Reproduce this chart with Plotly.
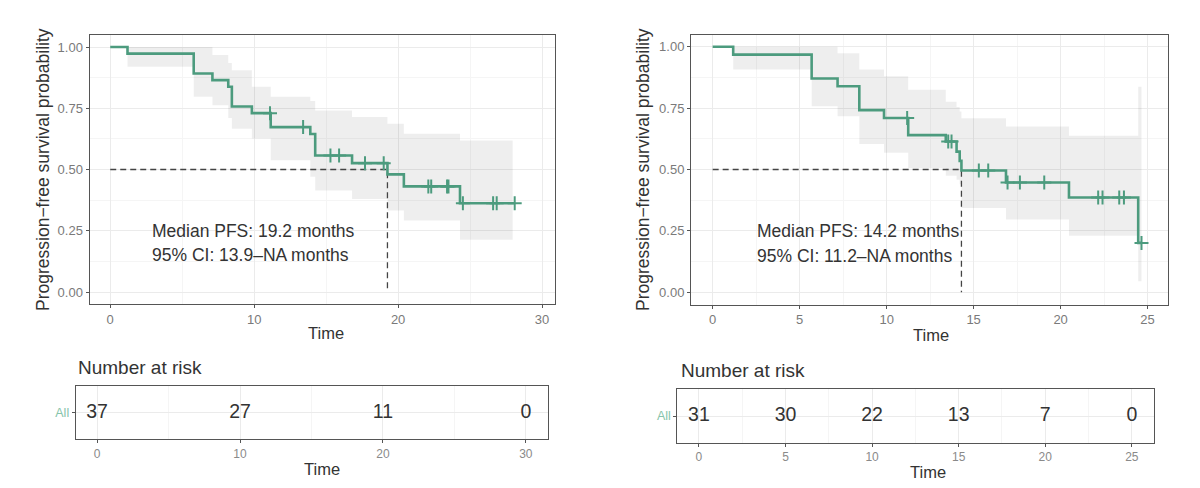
import plotly.graph_objects as go

# ---------------- data ----------------
# Left cohort (Kaplan-Meier steps)
left_times = [0, 1.2, 5.8, 7.1, 8.2, 8.45, 9.84, 11.15, 13.9, 14.24, 16.8, 19.26, 20.4, 24.3]
left_surv = [1.0, 0.973, 0.892, 0.865, 0.838, 0.757, 0.730, 0.673, 0.645, 0.557, 0.526, 0.480, 0.431, 0.362]
left_upper = [1.0, 1.0, 1.0, 0.967, 0.935, 0.905, 0.838, 0.797, 0.780, 0.741, 0.714, 0.687, 0.646, 0.618]
left_lower = [1.0, 0.919, 0.797, 0.762, 0.710, 0.666, 0.627, 0.538, 0.470, 0.414, 0.380, 0.333, 0.292, 0.213]
left_censor = [11.1, 13.4, 15.3, 15.9, 17.7, 19.0, 22.1, 22.3, 23.4, 23.5, 24.5, 26.6, 26.85, 28.1]
left_end = 28.1
left_band_end = 27.96
left_median = 19.26
left_risk_times = [0, 10, 20, 30]
left_risk_n = [37, 27, 11, 0]
left_text = ["Median PFS: 19.2 months", "95% CI: 13.9\u2013NA months"]

# Right cohort
right_times = [0, 1.18, 5.69, 7.18, 8.43, 9.85, 11.24, 13.4, 14.02, 14.2, 14.3, 16.86, 20.48, 24.46]
right_surv = [1.0, 0.968, 0.871, 0.839, 0.742, 0.710, 0.640, 0.614, 0.573, 0.535, 0.496, 0.447, 0.386, 0.201]
right_upper = [1.0, 1.0, 1.0, 0.974, 0.907, 0.880, 0.825, 0.776, 0.755, 0.736, 0.709, 0.675, 0.637, 0.837]
right_lower = [1.0, 0.907, 0.758, 0.717, 0.604, 0.568, 0.505, 0.475, 0.458, 0.440, 0.343, 0.296, 0.230, 0.045]
right_censor = [11.18, 13.54, 13.73, 15.3, 15.84, 16.95, 17.66, 19.06, 22.16, 22.41, 23.37, 23.64, 24.65]
right_end = 24.65
right_band_end = 24.65
right_median = 14.3
right_risk_times = [0, 5, 10, 15, 20, 25]
right_risk_n = [31, 30, 22, 13, 7, 0]
right_text = ["Median PFS: 14.2 months", "95% CI: 11.2\u2013NA months"]

# ---------------- style ----------------
GREEN = "#4C9B7E"
GREEN_LIGHT = "#86C4AA"
BAND = "rgba(0,0,0,0.065)"
GRID = "#ebebeb"
MINOR = "#f5f5f5"
BORDER = "#555555"
TICKC = "#7a7a7a"
TXT = "#333333"
FONT = "Liberation Sans, Arial, sans-serif"
W, H = 1200, 488


def step_at(times, vals, t):
    v = vals[0]
    for ti, vi in zip(times, vals):
        if ti <= t:
            v = vi
    return v


fig = go.Figure()


def add_km(times, surv, upper, lower, censor, end, band_end, median, xa, ya):
    # CI band
    fig.add_trace(go.Scatter(x=times + [band_end], y=upper + [upper[-1]], mode="lines",
                             line=dict(width=0, shape="hv"), hoverinfo="skip",
                             showlegend=False, xaxis=xa, yaxis=ya))
    fig.add_trace(go.Scatter(x=times + [band_end], y=lower + [lower[-1]], mode="lines",
                             line=dict(width=0, shape="hv"), fill="tonexty", fillcolor=BAND,
                             hoverinfo="skip", showlegend=False, xaxis=xa, yaxis=ya))
    # median dashed lines
    fig.add_trace(go.Scatter(x=[0, median, median], y=[0.5, 0.5, 0], mode="lines",
                             line=dict(color="#444444", width=1.3, dash="6px,4px"),
                             showlegend=False, xaxis=xa, yaxis=ya))
    # KM curve
    fig.add_trace(go.Scatter(x=times + [end], y=surv + [surv[-1]], mode="lines",
                             line=dict(color=GREEN, width=2.6, shape="hv"),
                             showlegend=False, xaxis=xa, yaxis=ya))
    # censor marks
    fig.add_trace(go.Scatter(x=censor, y=[step_at(times, surv, c) for c in censor], mode="markers",
                             marker=dict(symbol="cross-thin", size=10,
                                         line=dict(color=GREEN, width=2)),
                             showlegend=False, xaxis=xa, yaxis=ya))


add_km(left_times, left_surv, left_upper, left_lower, left_censor, left_end, left_band_end,
       left_median, "x", "y")
add_km(right_times, right_surv, right_upper, right_lower, right_censor, right_end, right_band_end,
       right_median, "x2", "y2")

# risk tables
fig.add_trace(go.Scatter(x=left_risk_times, y=["All"] * len(left_risk_times), mode="text",
                         text=[str(n) for n in left_risk_n],
                         textfont=dict(size=19.5, color=TXT, family=FONT),
                         showlegend=False, xaxis="x3", yaxis="y3"))
fig.add_trace(go.Scatter(x=right_risk_times, y=["All"] * len(right_risk_times), mode="text",
                         text=[str(n) for n in right_risk_n],
                         textfont=dict(size=19.5, color=TXT, family=FONT),
                         showlegend=False, xaxis="x4", yaxis="y4"))


def px_x(a, b):
    return [a / W, b / W]


def px_y(top, bottom):
    return [1 - bottom / H, 1 - top / H]


common_axis = dict(showline=True, mirror=True, linecolor=BORDER, linewidth=1,
                   ticks="outside", ticklen=3, tickcolor=BORDER,
                   tickfont=dict(size=13, color=TICKC, family=FONT),
                   showgrid=True, gridcolor=GRID, gridwidth=1, zeroline=False)

main_y = dict(common_axis, range=[-0.05, 1.05], tickvals=[0, 0.25, 0.5, 0.75, 1.0],
              ticktext=["0.00", "0.25", "0.50", "0.75", "1.00"],
              minor=dict(tickvals=[0.125, 0.375, 0.625, 0.875], showgrid=True,
                         gridcolor=MINOR, ticks=""))
risk_tick = dict(size=12, color="#8a8a8a", family=FONT)
all_tick = dict(size=12.5, color=GREEN_LIGHT, family=FONT)

fig.update_layout(
    width=W, height=H, margin=dict(l=0, r=0, t=0, b=0),
    paper_bgcolor="white", plot_bgcolor="white", font=dict(family=FONT, color=TXT),
    xaxis=dict(common_axis, domain=px_x(89.5, 555), range=[-1.44, 30.9], anchor="y",
               tickvals=[0, 10, 20, 30],
               minor=dict(tickvals=[5, 15, 25], showgrid=True, gridcolor=MINOR, ticks="")),
    yaxis=dict(main_y, domain=px_y(34.75, 304.25), anchor="x"),
    xaxis2=dict(common_axis, domain=px_x(691, 1167.6), range=[-1.245, 26.15], anchor="y2",
                tickvals=[0, 5, 10, 15, 20, 25],
                minor=dict(tickvals=[2.5, 7.5, 12.5, 17.5, 22.5], showgrid=True,
                           gridcolor=MINOR, ticks="")),
    yaxis2=dict(main_y, domain=px_y(34.5, 304.5), anchor="x2"),
    xaxis3=dict(common_axis, domain=px_x(75.7, 548), range=[-1.5, 31.55], anchor="y3",
                tickvals=[0, 10, 20, 30], tickfont=risk_tick,
                minor=dict(tickvals=[5, 15, 25], showgrid=True, gridcolor=MINOR, ticks="")),
    yaxis3=dict(common_axis, domain=px_y(386, 439.3), anchor="x3", type="category",
                range=[-0.5, 0.5], tickfont=all_tick),
    xaxis4=dict(common_axis, domain=px_x(677.3, 1153.5), range=[-1.25, 26.25], anchor="y4",
                tickvals=[0, 5, 10, 15, 20, 25], tickfont=risk_tick,
                minor=dict(tickvals=[2.5, 7.5, 12.5, 17.5, 22.5], showgrid=True,
                           gridcolor=MINOR, ticks="")),
    yaxis4=dict(common_axis, domain=px_y(389.3, 442.7), anchor="x4", type="category",
                range=[-0.5, 0.5], tickfont=all_tick),
)

ann = []
ytitle = "Progression\u2212free survival probability"
for xc in (43, 643):
    ann.append(dict(text=ytitle, x=xc / W, y=1 - 170 / H, xref="paper", yref="paper",
                    xanchor="center", yanchor="middle",
                    showarrow=False, textangle=-90, font=dict(size=17.5, color=TXT)))
for xc, yc in ((326, 333), (931, 335), (322, 469), (928, 472)):
    ann.append(dict(text="Time", x=xc / W, y=1 - yc / H, xref="paper", yref="paper",
                    xanchor="center", yanchor="middle",
                    showarrow=False, font=dict(size=16.5, color=TXT)))
for xc, yc in ((76, 367), (679, 370)):
    ann.append(dict(text="Number at risk", x=xc / W, y=1 - yc / H, xref="paper", yref="paper",
                    xanchor="left", yanchor="middle", showarrow=False,
                    font=dict(size=19, color=TXT)))
for lines, xa, ya, x0 in ((left_text, "x", "y", 2.75), (right_text, "x2", "y2", 2.45)):
    for line, yv in zip(lines, (0.251, 0.149)):
        ann.append(dict(text=line, x=x0, y=yv, xref=xa, yref=ya, xanchor="left",
                        yanchor="middle", showarrow=False, font=dict(size=17.5, color=TXT)))
fig.update_layout(annotations=ann)

fig.write_html("out.html")
